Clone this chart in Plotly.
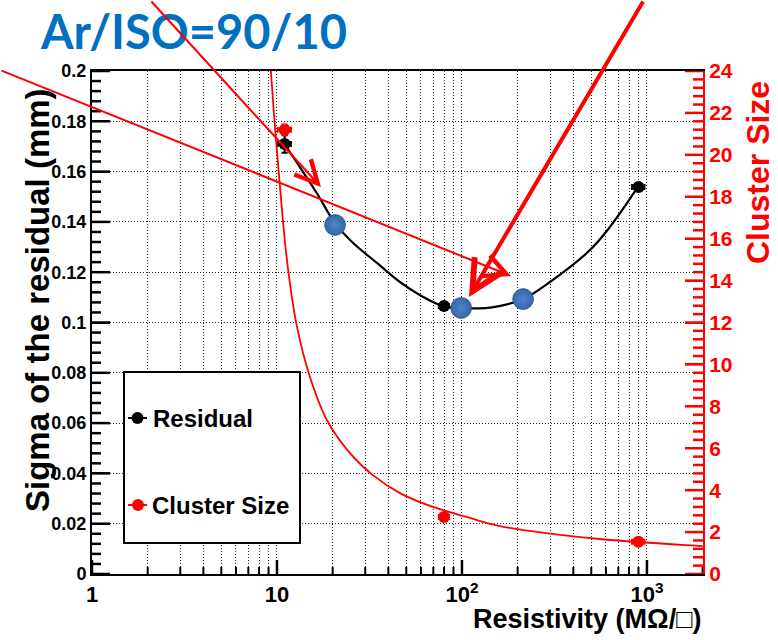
import math
import plotly.graph_objects as go

# ---------------- data ----------------
res_x = [11, 80, 900]
res_y = [0.171, 0.1066, 0.1539]
res_ex = [0.9, 5, 70]
res_ey = [0.0035, 0.0012, 0.0012]

cs_x = [11, 80, 900]
cs_y = [21.2, 2.72, 1.54]
cs_ex = [0.9, 5, 70]
cs_ey = [0.25, 0.1, 0.08]

# fit curve of the residual
res_fit_x = [10.9, 13.3, 16.4, 20.6, 25.8, 34.7, 46.2, 59.3, 78.9, 110, 151, 214, 299, 492, 631, 894]
res_fit_y = [0.1712, 0.1618, 0.1515, 0.1395, 0.1316, 0.1237, 0.1161, 0.1109, 0.1066, 0.1056, 0.1062,
             0.1093, 0.1161, 0.1288, 0.1380, 0.1539]

# fit curve of the cluster size
cs_fit_x = [9.2, 9.28, 9.75, 10.38, 11.32, 12.83, 15.08, 18.6, 24.8, 33.0, 46.2, 69.7, 106.4, 160, 557, 1934, 2000]
cs_fit_y = [24.5, 23.95, 21.33, 18.47, 14.98, 11.79, 9.40, 7.35, 5.77, 4.72, 3.86, 3.20, 2.72, 2.29, 1.67, 1.34, 1.33]

# highlighted points (slide overlay)
hl_x = [20.6, 99, 214]
hl_y = [0.1388, 0.1058, 0.1093]

x_tickvals = [1, 10, 100, 1000]
x_ticktext = ["1", "10", "10<sup>2</sup>", "10<sup>3</sup>"]

# ---------------- geometry helpers ----------------
W, H = 778, 640
ML, MR, MT, MB = 92, 75, 71, 66
PW, PH = W - ML - MR, H - MT - MB
XLOG_RANGE = [0, 3.303]
Y_RANGE = [0, 0.2]
Y2_RANGE = [0, 24]


def px(x):
    return (x - ML) / PW


def py(y):
    return (H - MB - y) / PH


def xlen_log(pix):
    return pix / PW * (XLOG_RANGE[1] - XLOG_RANGE[0])


def ylen(pix, rng):
    return pix / PH * (rng[1] - rng[0])


FONT = "Liberation Sans"
RED = "#ff0000"
GRID = "#222"

fig = go.Figure()

fig.add_trace(go.Scatter(x=cs_fit_x, y=cs_fit_y, mode="lines", yaxis="y2",
                         line=dict(color=RED, width=1.8, shape="spline"), showlegend=False))
fig.add_trace(go.Scatter(x=res_fit_x, y=res_fit_y, mode="lines",
                         line=dict(color="black", width=2.2, shape="spline"), showlegend=False))
fig.add_trace(go.Scatter(x=res_x, y=res_y, mode="markers",
                         marker=dict(color="black", size=12),
                         error_x=dict(type="data", array=res_ex, color="black", thickness=2, width=3),
                         error_y=dict(type="data", array=res_ey, color="black", thickness=2, width=3),
                         showlegend=False))
fig.add_trace(go.Scatter(x=cs_x, y=cs_y, mode="markers", yaxis="y2",
                         marker=dict(color=RED, size=12),
                         error_x=dict(type="data", array=cs_ex, color=RED, thickness=2, width=3),
                         error_y=dict(type="data", array=cs_ey, color=RED, thickness=2, width=3),
                         showlegend=False))

# ---- inside tick marks (ROOT style), drawn as line segments ----
xt_maj_x, xt_maj_y, xt_min_x, xt_min_y = [], [], [], []
for d in range(0, 4):
    for m in range(1, 10):
        v = m * 10 ** d
        if math.log10(v) > XLOG_RANGE[1]:
            continue
        if m == 1:
            xt_maj_x += [v, v, None]
            xt_maj_y += [0, ylen(14, Y_RANGE), None]
        else:
            xt_min_x += [v, v, None]
            xt_min_y += [0, ylen(7, Y_RANGE), None]
yl_x, yl_y = [], []
for i in range(0, 51):
    v = i * 0.004
    ln = 18 if i % 5 == 0 else 9
    yl_x += [10 ** XLOG_RANGE[0], 10 ** (XLOG_RANGE[0] + xlen_log(ln)), None]
    yl_y += [v, v, None]
yr_x, yr_y = [], []
for i in range(0, 61):
    v = i * 0.4
    ln = 18 if i % 5 == 0 else 10
    yr_x += [10 ** (XLOG_RANGE[1] - xlen_log(ln)), 10 ** XLOG_RANGE[1], None]
    yr_y += [v, v, None]

fig.add_trace(go.Scatter(x=xt_maj_x, y=xt_maj_y, mode="lines", line=dict(color="black", width=2.5),
                         hoverinfo="skip", showlegend=False, connectgaps=False))
fig.add_trace(go.Scatter(x=xt_min_x, y=xt_min_y, mode="lines", line=dict(color="black", width=2),
                         hoverinfo="skip", showlegend=False, connectgaps=False))
fig.add_trace(go.Scatter(x=yl_x, y=yl_y, mode="lines", line=dict(color="black", width=2.5),
                         hoverinfo="skip", showlegend=False, connectgaps=False))
fig.add_trace(go.Scatter(x=yr_x, y=yr_y, mode="lines", yaxis="y2", line=dict(color=RED, width=2.5),
                         hoverinfo="skip", showlegend=False, connectgaps=False))

fig.add_trace(go.Scatter(x=hl_x, y=hl_y, mode="markers",
                         marker=dict(color="#3465aa", size=21,
                                     gradient=dict(type="radial", color="#4f86c8"),
                                     line=dict(width=1, color="rgba(40,70,120,0.6)")),
                         showlegend=False))

grid_dash = "1px,2px"
fig.update_layout(
    width=W, height=H,
    margin=dict(l=ML, r=MR, t=MT, b=MB),
    paper_bgcolor="white", plot_bgcolor="white",
    showlegend=False,
    xaxis=dict(type="log", range=XLOG_RANGE,
               tickmode="array", tickvals=x_tickvals, ticktext=x_ticktext,
               ticks="inside", ticklen=14, tickwidth=2, tickcolor="black",
               showline=True, linecolor="black", linewidth=2, mirror=True,
               showgrid=True, gridcolor=GRID, gridwidth=1, griddash=grid_dash,
               minor=dict(dtick="D1", showgrid=True, gridcolor=GRID, gridwidth=1,
                          griddash=grid_dash),
               tickfont=dict(family=FONT, size=22, color="black", weight="bold"),
               zeroline=False),
    yaxis=dict(range=Y_RANGE, tickmode="linear", tick0=0, dtick=0.02,
               ticks="inside", ticklen=18, tickwidth=2, tickcolor="black",
               showline=True, linecolor="black", linewidth=2, mirror=False,
               showgrid=True, gridcolor=GRID, gridwidth=1, griddash=grid_dash,
               tickfont=dict(family=FONT, size=18, color="black", weight="bold"),
               zeroline=False),
    yaxis2=dict(range=Y2_RANGE, overlaying="y", side="right", anchor="x",
                tickmode="linear", tick0=0, dtick=2,
                ticks="inside", ticklen=18, tickwidth=2, tickcolor=RED,
                showline=True, linecolor=RED, linewidth=2,
                showgrid=False, zeroline=False,
                tickfont=dict(family=FONT, size=21, color=RED, weight="bold")),
)

# ---- legend (drawn manually) ----
shapes = [
    dict(type="rect", xref="paper", yref="paper", x0=px(124), x1=px(300), y0=py(543), y1=py(372),
         line=dict(color="black", width=2), fillcolor="white", layer="above"),
    dict(type="line", xref="paper", yref="paper", x0=px(128), x1=px(147), y0=py(418), y1=py(418),
         line=dict(color="black", width=2), layer="above"),
    dict(type="circle", xref="paper", yref="paper", xsizemode="pixel", ysizemode="pixel",
         xanchor=px(137.5), yanchor=py(418), x0=-6, x1=6, y0=-6, y1=6,
         fillcolor="black", line=dict(color="black", width=0), layer="above"),
    dict(type="line", xref="paper", yref="paper", x0=px(128), x1=px(147), y0=py(505), y1=py(505),
         line=dict(color=RED, width=2), layer="above"),
    dict(type="circle", xref="paper", yref="paper", xsizemode="pixel", ysizemode="pixel",
         xanchor=px(138), yanchor=py(505), x0=-6, x1=6, y0=-6, y1=6,
         fillcolor=RED, line=dict(color=RED, width=0), layer="above"),
]
fig.update_layout(shapes=shapes)

ann = []
# legend texts
ann.append(dict(text="Residual", xref="paper", yref="paper", x=px(151), y=py(418),
                xanchor="left", yanchor="middle", showarrow=False,
                font=dict(family=FONT, size=24, color="black", weight="bold")))
ann.append(dict(text="Cluster Size", xref="paper", yref="paper", x=px(150), y=py(505),
                xanchor="left", yanchor="middle", showarrow=False,
                font=dict(family=FONT, size=24, color="black", weight="bold")))
# axis titles
ann.append(dict(text="Sigma of the residual (mm)", xref="paper", yref="paper", x=px(37), y=py(300),
                xanchor="center", yanchor="middle", textangle=-90, showarrow=False,
                font=dict(family=FONT, size=33, color="black", weight="bold")))
ann.append(dict(text="Cluster Size", xref="paper", yref="paper", x=px(758), y=py(173),
                xanchor="center", yanchor="middle", textangle=-90, showarrow=False,
                font=dict(family=FONT, size=32, color=RED, weight="bold")))
ann.append(dict(text="Resistivity (MΩ/□)", xref="paper", yref="paper", x=px(704), y=py(619),
                xanchor="right", yanchor="middle", showarrow=False,
                font=dict(family=FONT, size=27, color="black", weight="bold")))
# slide title
ann.append(dict(text="Ar/ISO=90/10", xref="paper", yref="paper", x=px(38), y=py(31),
                xanchor="left", yanchor="middle", showarrow=False,
                font=dict(family="Lato", size=47, color="#0070C0", weight="bold")))
# red arrows (slide overlay)
ann.append(dict(text="", xref="paper", yref="paper", x=px(511), y=py(276), ax=-535, ay=-206,
                showarrow=True, arrowhead=5, arrowsize=2.2, arrowwidth=2, arrowcolor=RED, standoff=0))
ann.append(dict(text="", xref="paper", yref="paper", x=px(321), y=py(187), ax=-171, ay=-214,
                showarrow=True, arrowhead=5, arrowsize=2.2, arrowwidth=2, arrowcolor=RED, standoff=0))
ann.append(dict(text="", xref="paper", yref="paper", x=px(469), y=py(297), ax=175, ay=-320,
                showarrow=True, arrowhead=5, arrowsize=1.5, arrowwidth=4, arrowcolor=RED, standoff=0))
fig.update_layout(annotations=ann)

fig.write_html("out.html")
